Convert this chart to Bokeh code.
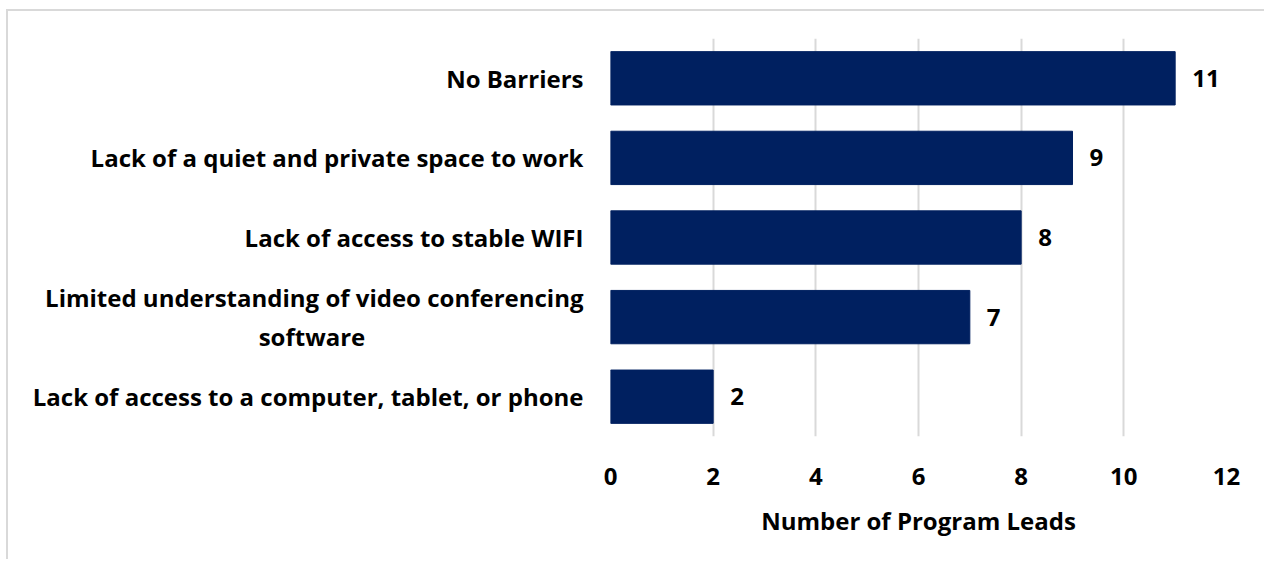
from bokeh.plotting import figure
from bokeh.models import ColumnDataSource, FixedTicker, LabelSet
from bokeh.core.properties import value
from bokeh.embed import file_html
from bokeh.resources import INLINE

categories = [
    "Lack of access to a computer, tablet, or phone",
    "Limited understanding of video conferencing\nsoftware",
    "Lack of access to stable WIFI",
    "Lack of a quiet and private space to work",
    "No Barriers",
]
values = [2, 7, 8, 9, 11]
x_ticks = [0, 2, 4, 6, 8, 10, 12]
x_title = "Number of Program Leads"

FONT = "Open Sans"
FS = "24px"
NBSP = "\u00a0"


def centred(label, pad=35):
    # right-aligned axis labels: pad the short last line so it sits centred
    lines = label.split("\n")
    if len(lines) == 1:
        return label
    return "\n".join(lines[:-1] + [lines[-1] + NBSP * pad])


factors = [centred(c) for c in categories]
src = ColumnDataSource(dict(cat=factors, val=values, lab=[str(v) for v in values]))

p = figure(
    y_range=factors, x_range=(0, 12),
    width=1258, height=550,
    output_backend="svg", toolbar_location=None,
    min_border_left=602, min_border_right=40, min_border_top=27, min_border_bottom=125,
)
p.margin = (9, 0, 0, 6)
p.styles = {"border-top": "2px solid #d9d9d9", "border-left": "2px solid #d9d9d9"}
p.outline_line_color = None
p.hbar(y="cat", right="val", height=0.67, source=src, color="#002060")
p.add_layout(LabelSet(x="val", y="cat", text="lab", source=src, x_offset=17, y_offset=0,
                      text_font=value(FONT), text_font_style="bold", text_font_size=FS,
                      text_baseline="middle", text_color="black"))

p.xaxis.ticker = FixedTicker(ticks=x_ticks)
p.xaxis.axis_label = x_title
p.xaxis.axis_label_text_font = FONT
p.xaxis.axis_label_text_font_style = "bold"
p.xaxis.axis_label_text_font_size = FS
p.xaxis.axis_label_text_color = "black"
p.xaxis.axis_label_standoff = 16
for ax in (p.xaxis, p.yaxis):
    ax.axis_line_color = None
    ax.major_tick_line_color = None
    ax.minor_tick_line_color = None
    ax.major_label_text_font = FONT
    ax.major_label_text_font_style = "bold"
    ax.major_label_text_font_size = FS
    ax.major_label_text_color = "black"
p.xaxis.major_label_standoff = 25
p.yaxis.major_label_standoff = 21

p.ygrid.grid_line_color = None
p.xgrid.grid_line_color = "#d9d9d9"
p.xgrid.grid_line_width = 2

open("out.html", "w").write(file_html(p, INLINE))
